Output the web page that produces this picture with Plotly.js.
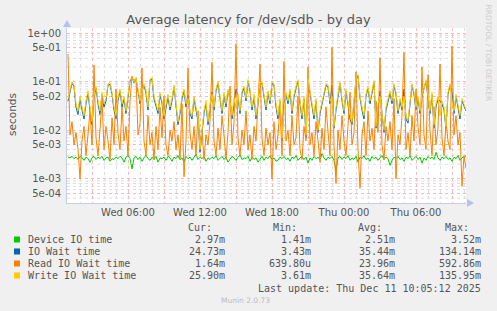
<!DOCTYPE html>
<html>
<head>
<meta charset="utf-8">
<script src="https://cdn.plot.ly/plotly-3.0.1.min.js"></script>
<style>html,body{margin:0;padding:0;background:#F0F0F0;}#chart{width:497px;height:311px;}</style>
</head>
<body>
<div id="chart"></div>
<script>
// Values in milliseconds, one every 10 minutes from Wed 2025-12-10 01:00
const deviceIO = [
 2.8,2.7,2.9,2.6,2.8,2.5,2.9,2.7,2.4,2.8, 2.6,2.2,2.7,2.9,2.5,2.8,2.6,2.9,2.4,2.7,
 2.8,2.3,2.6,2.5,2.8,2.6,2.9,2.7,2.2,2.8, 3.0,2.6,1.6,2.7,2.9,2.5,2.8,2.3,2.7,3.1,
 2.6,2.4,2.8,2.5,2.9,2.2,2.7,2.6,2.8,2.4, 2.9,2.7,2.3,2.8,2.6,3.0,2.5,2.7,2.2,2.9,
 2.6,2.8,2.4,2.7,3.2,2.5,2.8,2.6,2.9,2.3, 2.7,2.5,2.8,2.6,3.0,2.4,2.7,2.9,2.5,2.8,
 2.2,2.6,2.9,2.7,2.4,2.8,3.1,2.5,2.7,2.6, 2.9,2.3,2.8,2.5,2.7,2.2,2.6,2.9,2.4,2.8,
 2.6,3.0,2.5,2.7,2.3,2.4,2.8,2.6,2.9,2.5, 2.7,2.3,2.8,2.6,3.0,2.4,2.7,2.9,2.5,2.8,
 2.1,2.7,2.4,2.9,2.6,2.8,2.5,3.3,2.7,2.4, 2.8,2.6,2.9,2.4,1.45,2.7,2.9,2.5,2.8,2.6,
 3.0,2.4,2.7,2.5,2.9,2.2,2.8,2.6,3.0,2.5, 2.7,2.3,2.9,2.6,2.8,2.4,2.7,3.0,2.5,2.8,
 2.6,1.9,2.4,2.8,2.6,2.9,2.5,2.7,2.3,2.8, 2.6,3.0,2.4,2.7,2.9,2.5,2.8,2.1,2.7,2.4,
 2.9,2.6,2.8,2.5,3.5,2.7,2.4,2.8,2.6,2.9, 2.5,2.7,2.3,2.8,2.6,3.0,2.4,2.7,2.8,2.97];
const ioWait = [
 40,62,92,80,30,21,44,26,17,35, 58,26,13,48,74,35,21,54,30,40,
 84,88,55,26,17,40,64,30,44,22, 48,102,122,95,118,70,35,64,84,58,
 26,106,112,44,30,22,54,35,17,30, 48,26,40,78,35,13,22,44,64,30,
 52,22,17,44,26,15,3.5,10,22,35, 13,30,62,26,64,92,40,22,54,30,
 64,44,17,40,70,48,22,58,74,40, 102,64,26,48,17,35,92,92,44,26,
 58,35,92,84,30,17,40,6,35,54, 35,64,22,48,74,102,35,17,44,7,
 110,54,30,17,40,9,22,35,58,84, 78,35,84,11,26,54,92,40,22,64,
 30,17,13,35,110,134,46,26,17,50, 74,35,54,97,11,30,64,22,9,26,
 40,58,35,84,54,22,40,26,70,17, 14,35,84,54,26,46,22,50,74,102,
 46,22,54,11,30,44,40,35,26,11, 54,84,62,22,50,26,17,40,30,24.73];
const readIOWait = [
 370,8,15,5,9,4,1.0,6,12,3, 8,25,5,220,7,3,10,45,4,12,
 6,2.5,18,5,70,9,4,30,6,12, 3,40,130,100,120,8,14,190,6,3,
 20,5,9,2.5,12,4,30,7,50,5, 3,10,6,15,4,8,2.5,35,1.1,6,
 190,9,4,12,3,25,6,10,2.5,8, 5,15,250,6,3,11,4,20,8,2.5,
 9,80,5,14,590,7,3,10,5,25, 4,8,2.5,12,6,45,230,7,3,11,
 5,9,1.0,15,4,8,30,3,260,6, 10,3,20,5,7,50,4,2.5,12,6,
 200,5,9,3,15,6,2.2,11,4,30, 8,3,500,5,0.8,10,4,20,6,3,
 12,60,5,9,160,4,0.64,8,15,3, 25,6,11,4,40,9,310,5,2.5,12,
 6,15,4,45,1.0,8,5,20,400,4, 9,3,20,6,70,12,5,200,8,4,
 140,10,3,30,5,11,230,7,3,15, 6,4,540,8,20,5,9,0.7,3,1.64];
const writeIOWait = [
 45,70,100,85,35,25,50,30,20,40, 65,30,15,55,80,40,25,60,35,45,
 90,95,60,30,20,45,70,35,50,25, 55,110,120,100,120,75,40,60,90,65,
 30,115,120,50,35,25,60,40,20,35, 55,30,45,85,40,15,25,50,70,35,
 45,25,20,50,30,18,4,12,25,40, 15,35,55,30,70,100,45,25,60,35,
 70,40,20,45,30,55,25,65,80,45, 110,70,30,55,20,40,95,100,50,30,
 65,40,100,90,35,20,45,7,25,60, 40,70,25,55,80,110,40,20,50,8,
 115,60,35,20,45,10,25,40,65,90, 85,40,50,12,30,60,100,45,25,70,
 35,20,15,40,120,136,50,30,20,55, 80,40,60,105,12,35,50,25,10,30,
 45,65,40,90,60,25,45,30,50,20, 16,40,90,60,30,50,25,55,70,110,
 45,25,60,13,35,50,20,40,30,12, 60,90,40,25,55,30,20,45,35,25.9];

const seriesNames = ["Device IO time","IO Wait time","Read IO Wait time","Write IO Wait time"];
const seriesColors = ["#00CC00","#0066B3","#FF8000","#FFCC00"];
const curVals = ["2.97m","24.73m","1.64m","25.90m"];
const minVals = ["1.41m","3.43m","639.80u","3.61m"];
const avgVals = ["2.51m","35.44m","23.96m","35.64m"];
const maxVals = ["3.52m","134.14m","592.86m","135.95m"];

const yTickVals = [1,0.5,0.1,0.05,0.01,0.005,0.001,0.0005];
const yTickText = ["1e+00","5e-01","1e-01","5e-02","1e-02","5e-03","1e-03","5e-04"];
const xTickVals = ["2025-12-10 03:00","2025-12-10 06:00","2025-12-10 09:00","2025-12-10 12:00","2025-12-10 15:00","2025-12-10 18:00","2025-12-10 21:00","2025-12-11 00:00","2025-12-11 03:00","2025-12-11 06:00","2025-12-11 09:00"];
const xTickText = ["","Wed 06:00","","Wed 12:00","","Wed 18:00","","Thu 00:00","","Thu 06:00",""];

const startMs = Date.UTC(2025,11,10,1,0);
function fmt(ms){ return new Date(ms).toISOString().slice(0,16).replace('T',' '); }
const times = deviceIO.map((_,i)=>fmt(startMs + i*10*60000));

const allSeries = [deviceIO, ioWait, readIOWait, writeIOWait];
const traces = allSeries.map((arr,k)=>({
  x: times, y: arr.map(v=>v/1000), type:'scatter', mode:'lines',
  name: seriesNames[k], line:{color:seriesColors[k], width:1}, hoverinfo:'skip'
}));

// plot geometry in pixels
const L=67, R=466, T=28, B=203;
const px = p => (p-L)/(R-L);
const py = p => (B-p)/(B-T);

const shapes = [];
for (let e=-4; e<=0; e++) {
  for (const d of [2,3,4,6,7,8,9]) {
    const v = d*Math.pow(10,e);
    if (Math.log10(v) < -3.497 || Math.log10(v) > 0.103) continue;
    shapes.push({type:'line', xref:'paper', yref:'y', x0:0, x1:1, y0:v, y1:v, layer:'below',
      line:{color:'#DDDDDD', width:1, dash:'dot'}});
  }
}
shapes.push({type:'path', xref:'paper', yref:'paper', path:`M ${px(63)} ${py(27)} L ${px(71)} ${py(27)} L ${px(67)} ${py(20)} Z`, fillcolor:'#B8C0F0', line:{width:0}});
shapes.push({type:'path', xref:'paper', yref:'paper', path:`M ${px(467)} ${py(199)} L ${px(467)} ${py(207)} L ${px(474)} ${py(203)} Z`, fillcolor:'#B8C0F0', line:{width:0}});
const rowY = [239.5,251.5,263.5,275.5];
rowY.forEach((y,k)=>{
  shapes.push({type:'rect', xref:'paper', yref:'paper', x0:px(14), x1:px(20), y0:py(y+3), y1:py(y-3), fillcolor:seriesColors[k], line:{width:0}});
});

const mono = {family:'DejaVu Sans Mono', size:10, color:'#555555'};
const ann = [];
function txt(text, x, y, anchor, font, extra){ ann.push(Object.assign({text, x:px(x), y:py(y), xref:'paper', yref:'paper', xanchor:anchor, yanchor:'middle', showarrow:false, font}, extra||{})); }
txt('Cur:', 213.5, 227, 'right', mono);
txt('Min:', 298.5, 227, 'right', mono);
txt('Avg:', 383.5, 227, 'right', mono);
txt('Max:', 470.5, 227, 'right', mono);
rowY.forEach((y,k)=>{
  txt(seriesNames[k], 26, y, 'left', mono);
  txt(curVals[k], 226.5, y, 'right', mono);
  txt(minVals[k], 313, y, 'right', mono);
  txt(avgVals[k], 397, y, 'right', mono);
  txt(maxVals[k], 483, y, 'right', mono);
});
txt('Last update: Thu Dec 11 10:05:12 2025', 483, 288, 'right', mono);
txt('Munin 2.0.73', 245, 300.5, 'center', {family:'DejaVu Sans', size:7.5, color:'#BBBBBB'});
txt('seconds', 12, 115, 'center', {family:'DejaVu Sans', size:10.5, color:'#555555'}, {textangle:-90});
txt('RRDTOOL / TOBI OETIKER', 488.5, 53, 'center', {family:'DejaVu Sans', size:7.5, color:'#CCCCCC'}, {textangle:90});

const layout = {
  width:497, height:311,
  margin:{l:L, r:497-R, t:T, b:311-B, pad:0},
  paper_bgcolor:'#F0F0F0', plot_bgcolor:'#FFFFFF',
  showlegend:false,
  title:{text:'Average latency for /dev/sdb - by day', font:{family:'DejaVu Sans', size:13, color:'#555555'}, x:0.5, xref:'container', xanchor:'center', y:1-19/311, yref:'container', yanchor:'middle'},
  xaxis:{type:'date', range:['2025-12-10 00:55','2025-12-11 10:10'], tickmode:'array', tickvals:xTickVals, ticktext:xTickText,
    showgrid:true, gridcolor:'#F2BABA', griddash:'dot', gridwidth:1, zeroline:false,
    showline:true, linecolor:'#C8CCE8', linewidth:1, ticks:'', tickfont:{family:'DejaVu Sans', size:10, color:'#555555'},
    minor:{showgrid:true, dtick:3600000, tick0:'2025-12-10 01:00', gridcolor:'#DDDDDD', griddash:'dot', gridwidth:1}},
  yaxis:{type:'log', range:[-3.497,0.103], tickmode:'array', tickvals:yTickVals, ticktext:yTickText,
    showgrid:true, gridcolor:'#F2BABA', griddash:'dot', gridwidth:1, zeroline:false,
    showline:true, linecolor:'#C8CCE8', linewidth:1, ticks:'', ticklabelstandoff:3, tickfont:{family:'DejaVu Sans', size:10, color:'#555555'}},
  shapes, annotations:ann
};
Plotly.newPlot('chart', traces, layout, {staticPlot:true, displayModeBar:false});
</script>
</body>
</html>
